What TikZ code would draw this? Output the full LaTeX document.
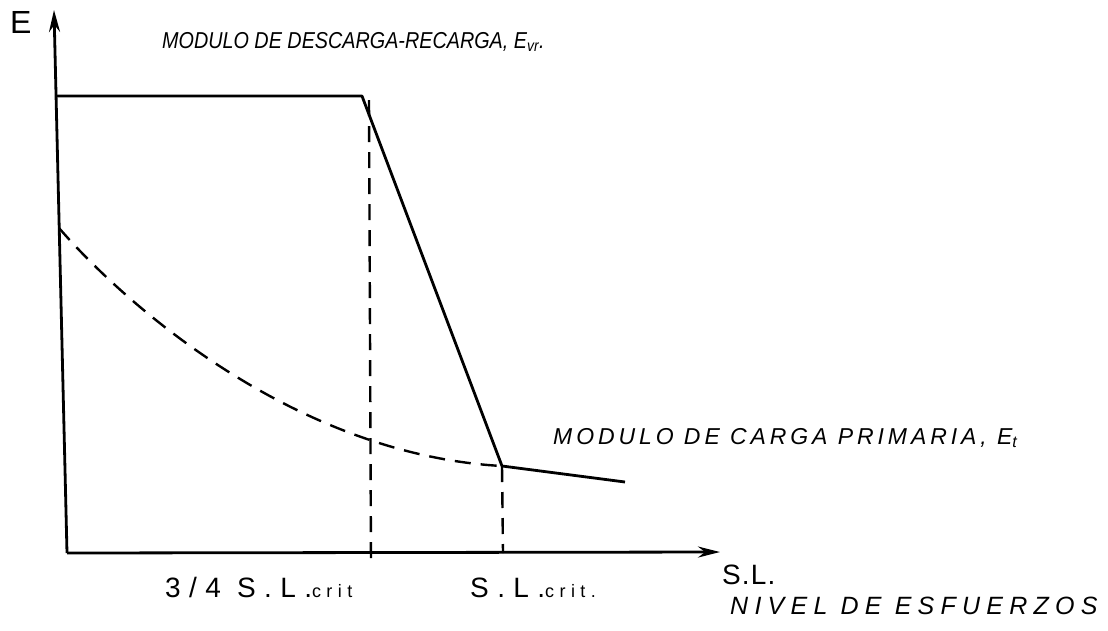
\documentclass[tikz,border=0pt]{standalone}
\usepackage{fontspec}
\setmainfont{Liberation Sans}
\usetikzlibrary{arrows.meta}
\begin{document}
\begin{tikzpicture}[x=1pt,y=-1pt,
  curve/.style={line width=2.8pt,line join=round},
  guide/.style={line width=2.4pt,dash pattern=on 16pt off 10pt},
  label/.style={anchor=base west,inner sep=0pt,font=\fontsize{23}{23}\selectfont}]
\def\l{22pt}
\def\w{11pt}
\def\crit#1{{\fontsize{18}{18}\selectfont #1}}
\useasboundingbox (0,0) rectangle (1108,630);
% ejes
\coordinate (o) at (67,553);
\coordinate (ytop) at (54,10);
\coordinate (xend) at (720,552);
\draw [curve,-{Stealth[length=\l, width=\w]}](o) to (ytop);
\draw [curve,-{Stealth[length=\l, width=\w]}](o) to (xend);
\node [label, name=eaxis] at (10,33) {\fontsize{32}{32}\selectfont E};
% modulo de descarga-recarga
\coordinate (a1) at (57,96);
\coordinate (a2) at (362,96);
\coordinate (knee) at (502,466);
\coordinate (a3) at (625,482);
\draw [curve](a1) to (a2) to (knee) to (a3);
% modulo de carga primaria
\coordinate (c0) at (59,228);
\draw [guide](c0) .. controls (130,310) and (300,455) .. (knee);
% niveles criticos
\coordinate (v1) at (369,100);
\coordinate (v1b) at (371,565);
\coordinate (v2b) at (503,553);
\draw [guide](v1) to (v1b);
\draw [guide](knee) to (v2b);
% textos
\node [label, name=eur] at (162,48) {\scalebox{0.86}[1]{\itshape MODULO DE DESCARGA-RECARGA, E\textsubscript{vr}.}};
\node [label, name=et] at (553,444) {\addfontfeatures{LetterSpace=17}\itshape MODULO DE CARGA PRIMARIA, E\textsubscript{t}};
\node [label, name=sl34] at (165,597) {\fontsize{28}{28}\selectfont\addfontfeatures{LetterSpace=30}3/4 S.L.\crit{crit}};
\node [label, name=slc] at (470,597) {\fontsize{28}{28}\selectfont\addfontfeatures{LetterSpace=30}S.L.\crit{crit.}};
\node [label, name=sl] at (722,584) {\fontsize{28}{28}\selectfont\addfontfeatures{LetterSpace=4}S.L.};
\node [label, name=nivel] at (730,614) {\fontsize{25}{25}\selectfont\addfontfeatures{LetterSpace=25}\itshape NIVEL DE ESFUERZOS};
\end{tikzpicture}
\end{document}
